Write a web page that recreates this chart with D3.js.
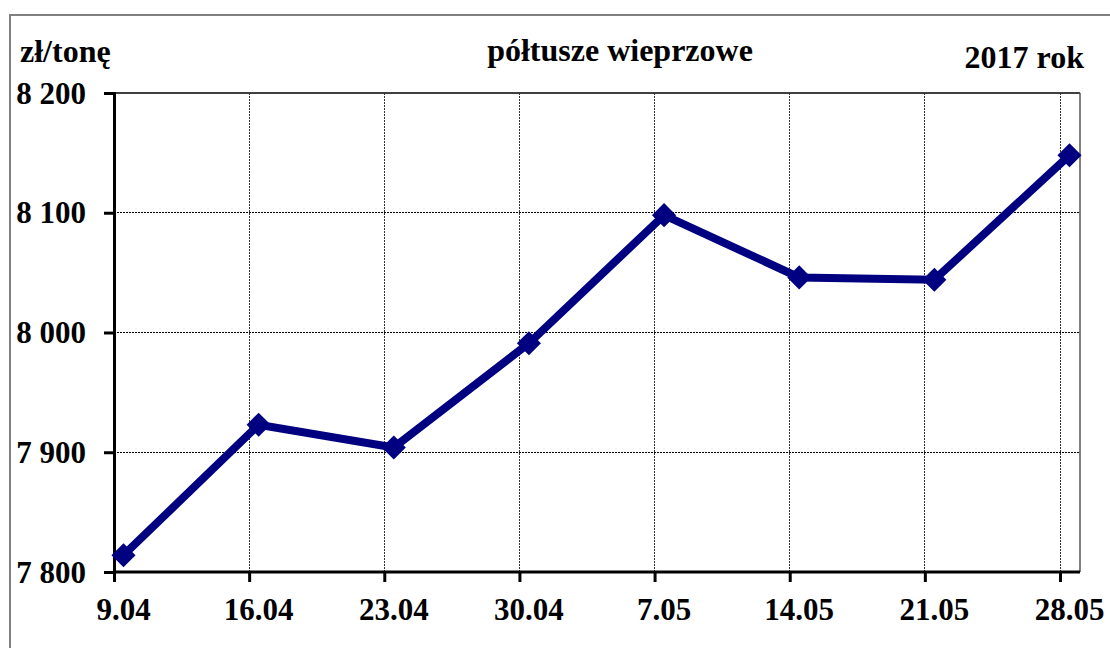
<!DOCTYPE html>
<html><head><meta charset="utf-8">
<script src="https://cdn.jsdelivr.net/npm/d3@7"></script>
<style>html,body{margin:0;padding:0;background:#fff;overflow:hidden}</style>
</head><body>
<svg id="c" width="1110" height="648"></svg>
<script>
const categories = ["9.04","16.04","23.04","30.04","7.05","14.05","21.05","28.05"];
const values = [7814, 7923, 7904, 7991, 8098, 8046, 8044, 8148];
const yTicks = [7800, 7900, 8000, 8100, 8200];
const unitLabel = "zł/tonę";
const titleText = "półtusze wieprzowe";
const yearText = "2017 rok";

const svg = d3.select("#c");
const font = "'Liberation Serif','Times New Roman',serif";
const L = 114, R = 1080, T = 93, B = 572;
const markOffset = 9.5;

// outer frame
svg.append("rect").attr("x",10).attr("y",15).attr("width",1110).attr("height",650)
  .attr("fill","#fff").attr("stroke","#808080").attr("stroke-width",2);

const xGrid = d3.scalePoint().domain(categories).range([L, 1060]);
const x = c => xGrid(c) + markOffset;
const y = d3.scaleLinear().domain([7800, 8200]).range([B, T]);

// plot frame top/right
svg.append("line").attr("x1",L).attr("x2",R).attr("y1",T).attr("y2",T).attr("stroke","#000").attr("stroke-width",1.3);
svg.append("line").attr("x1",R).attr("x2",R).attr("y1",T).attr("y2",B).attr("stroke","#555").attr("stroke-width",1.5);

// horizontal grid
svg.append("g").selectAll("line").data(yTicks.filter(v => v > 7800 && v < 8200)).join("line")
  .attr("x1",L).attr("x2",R).attr("y1",d=>y(d)).attr("y2",d=>y(d))
  .attr("stroke","#000").attr("stroke-width",1).attr("stroke-dasharray","1.5,1.5").attr("shape-rendering","crispEdges");
// vertical grid
svg.append("g").selectAll("line").data(categories.slice(1)).join("line")
  .attr("x1",d=>xGrid(d)).attr("x2",d=>xGrid(d)).attr("y1",T).attr("y2",B)
  .attr("stroke","#333").attr("stroke-width",1).attr("stroke-dasharray","1.5,1.5").attr("shape-rendering","crispEdges");

// y axis
const yAxis = d3.axisLeft(y).tickValues(yTicks).tickSize(10).tickPadding(17)
  .tickFormat(d => d3.format(",")(d).replace(",", " "));
const gy = svg.append("g").attr("transform",`translate(${L},0)`).call(yAxis);
gy.select(".domain").attr("stroke","#000").attr("stroke-width",3);
gy.selectAll(".tick line").attr("stroke","#000").attr("stroke-width",3);
gy.selectAll(".tick text").attr("font-family",font).attr("font-weight","bold")
  .attr("font-size",31).attr("fill","#000").attr("dy","0.33em").attr("x",-28);

// x axis
const xAxis = d3.axisBottom(xGrid).tickSize(10).tickSizeOuter(0).tickFormat("");
const gx = svg.append("g").attr("transform",`translate(0,${B})`).call(xAxis);
gx.select(".domain").attr("d",`M${L},0H${R}`).attr("stroke","#000").attr("stroke-width",3);
gx.selectAll(".tick line").attr("stroke","#000").attr("stroke-width",3);
svg.append("g").selectAll("text").data(categories).join("text")
  .attr("x",d=>x(d)).attr("y",620).attr("text-anchor","middle")
  .attr("font-family",font).attr("font-weight","bold").attr("font-size",31).attr("fill","#000")
  .text(d=>d);

// line
const pts = categories.map((c,i)=>({c, v: values[i]}));
svg.append("path").datum(pts)
  .attr("d", d3.line().x(d=>x(d.c)).y(d=>y(d.v)))
  .attr("fill","none").attr("stroke","#000080").attr("stroke-width",8).attr("stroke-linejoin","miter");
svg.append("g").selectAll("path").data(pts).join("path")
  .attr("d", d3.symbol().type(d3.symbolSquare).size(290))
  .attr("transform", d=>`translate(${x(d.c)},${y(d.v)}) rotate(45)`)
  .attr("fill","#000080");

// texts
svg.append("text").attr("x",20).attr("y",62).attr("font-family",font).attr("font-weight","bold")
  .attr("font-size",32).attr("fill","#000").text(unitLabel);
svg.append("text").attr("x",620).attr("y",61).attr("text-anchor","middle").attr("font-family",font).attr("font-weight","bold")
  .attr("font-size",32).attr("fill","#000").text(titleText);
svg.append("text").attr("x",1084).attr("y",68).attr("text-anchor","end").attr("font-family",font).attr("font-weight","bold")
  .attr("font-size",32).attr("fill","#000").text(yearText);
</script>
</body></html>
